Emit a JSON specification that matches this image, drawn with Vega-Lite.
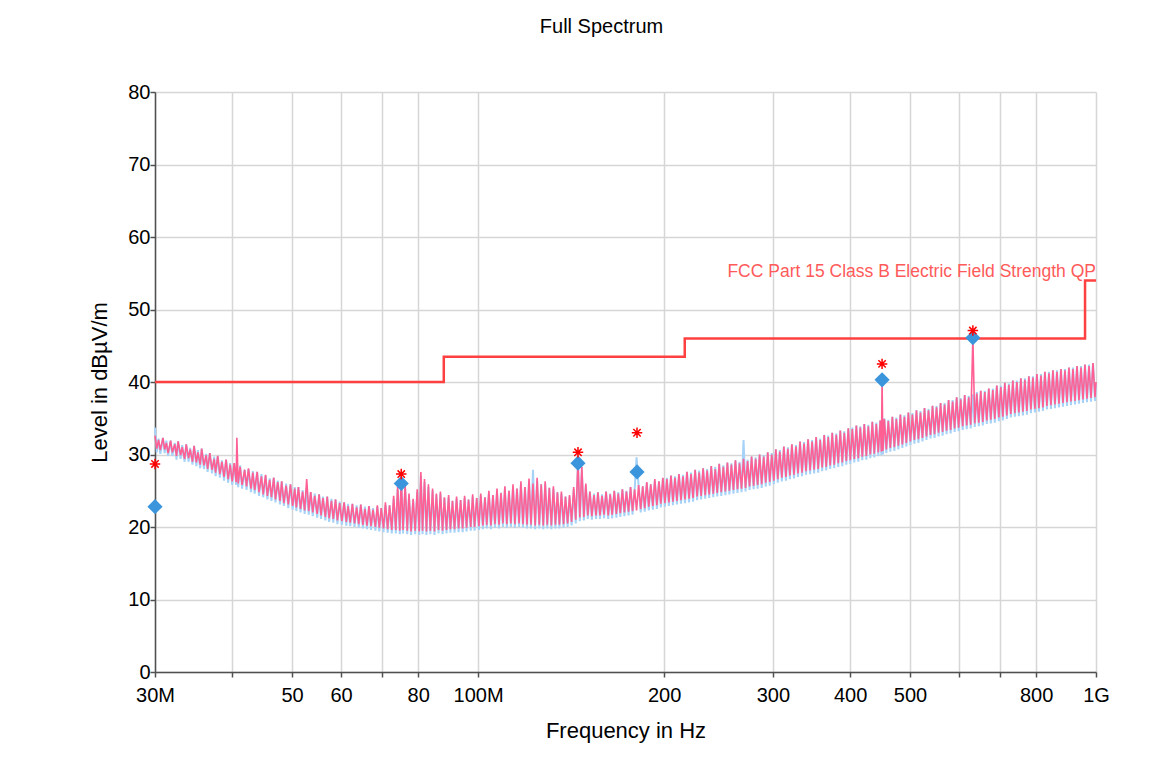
{
  "$schema": "https://vega.github.io/schema/vega-lite/v6.json",
  "width": 941,
  "height": 580,
  "autosize": {"type": "none"},
  "padding": {"left": 155, "top": 92, "right": 79, "bottom": 111},
  "background": "white",
  "title": {"text": "Full Spectrum", "fontSize": 20, "font": "Liberation Sans", "fontWeight": "normal", "color": "#000000", "anchor": "middle", "frame": "group", "dx": -24, "offset": 45},
  "config": {
    "font": "Liberation Sans",
    "view": {"stroke": null},
    "axis": {
      "labelFont": "Liberation Sans", "titleFont": "Liberation Sans",
      "labelFontSize": 20, "titleFontSize": 22, "titleFontWeight": "normal",
      "labelColor": "#000000", "titleColor": "#000000",
      "gridColor": "#d6d6d6", "gridWidth": 1.5,
      "domainColor": "#505050", "domainWidth": 1.5,
      "tickColor": "#505050", "tickWidth": 1.5, "tickSize": 5,
      "labelFlush": false, "labelOverlap": false
    }
  },
  "datasets": {
    "trace": [
      {"freq":30.0,"vert":32.6,"horiz":33.7},{"freq":30.2,"vert":30.8,"horiz":30.3},{"freq":30.4,"vert":32.0,"horiz":32.2},{"freq":30.6,"vert":30.6,"horiz":30.1},{"freq":30.9,"vert":32.3,"horiz":32.3},{"freq":31.1,"vert":30.7,"horiz":30.2},{"freq":31.3,"vert":31.6,"horiz":31.9},{"freq":31.5,"vert":30.2,"horiz":29.8},{"freq":31.8,"vert":31.9,"horiz":31.9},{"freq":32.0,"vert":30.3,"horiz":29.8},{"freq":32.3,"vert":31.4,"horiz":31.6},{"freq":32.5,"vert":29.8,"horiz":29.3},{"freq":32.7,"vert":31.8,"horiz":31.8},{"freq":33.0,"vert":29.9,"horiz":29.4},{"freq":33.2,"vert":31.0,"horiz":31.3},{"freq":33.5,"vert":29.4,"horiz":29.0},{"freq":33.7,"vert":31.4,"horiz":31.4},{"freq":34.0,"vert":29.5,"horiz":29.0},{"freq":34.2,"vert":30.7,"horiz":30.9},{"freq":34.5,"vert":29.0,"horiz":28.6},{"freq":34.7,"vert":31.2,"horiz":31.2},{"freq":35.0,"vert":28.9,"horiz":28.4},{"freq":35.2,"vert":30.3,"horiz":30.6},{"freq":35.5,"vert":28.6,"horiz":28.1},{"freq":35.7,"vert":30.8,"horiz":30.8},{"freq":36.0,"vert":28.5,"horiz":28.0},{"freq":36.3,"vert":29.9,"horiz":30.1},{"freq":36.5,"vert":28.0,"horiz":27.6},{"freq":36.8,"vert":30.2,"horiz":30.2},{"freq":37.1,"vert":27.9,"horiz":27.4},{"freq":37.4,"vert":29.4,"horiz":29.7},{"freq":37.6,"vert":27.5,"horiz":27.0},{"freq":37.9,"vert":29.8,"horiz":29.8},{"freq":38.2,"vert":27.3,"horiz":26.8},{"freq":38.5,"vert":29.0,"horiz":29.2},{"freq":38.8,"vert":26.9,"horiz":26.4},{"freq":39.1,"vert":29.3,"horiz":29.3},{"freq":39.4,"vert":26.6,"horiz":26.1},{"freq":39.7,"vert":28.6,"horiz":28.8},{"freq":40.0,"vert":26.3,"horiz":25.8},{"freq":40.3,"vert":28.8,"horiz":28.8},
      {"freq":40.6,"vert":26.2,"horiz":25.8},{"freq":40.7,"vert":32.3,"horiz":27.9},{"freq":40.9,"vert":26.0,"horiz":25.5},{"freq":41.2,"vert":28.3,"horiz":28.5},{"freq":41.5,"vert":25.8,"horiz":25.3},{"freq":41.9,"vert":27.9,"horiz":27.9},{"freq":42.2,"vert":25.6,"horiz":25.1},{"freq":42.5,"vert":28.1,"horiz":28.0},{"freq":42.9,"vert":25.3,"horiz":24.8},{"freq":43.2,"vert":27.5,"horiz":27.7},{"freq":43.5,"vert":25.1,"horiz":24.6},{"freq":43.9,"vert":27.6,"horiz":27.6},{"freq":44.2,"vert":24.8,"horiz":24.3},{"freq":44.6,"vert":27.0,"horiz":27.3},{"freq":44.9,"vert":24.5,"horiz":24.1},{"freq":45.3,"vert":27.2,"horiz":27.1},{"freq":45.6,"vert":24.3,"horiz":23.8},{"freq":46.0,"vert":26.5,"horiz":26.7},{"freq":46.3,"vert":24.1,"horiz":23.6},{"freq":46.7,"vert":26.8,"horiz":26.8},{"freq":47.0,"vert":23.8,"horiz":23.4},{"freq":47.4,"vert":26.2,"horiz":26.4},{"freq":47.8,"vert":23.6,"horiz":23.1},{"freq":48.1,"vert":26.3,"horiz":26.3},{"freq":48.5,"vert":23.3,"horiz":22.9},{"freq":48.9,"vert":25.7,"horiz":26.0},{"freq":49.3,"vert":23.1,"horiz":22.6},{"freq":49.7,"vert":25.9,"horiz":25.9},{"freq":50.1,"vert":22.9,"horiz":22.4},{"freq":50.5,"vert":25.3,"horiz":25.5},{"freq":50.8,"vert":22.7,"horiz":22.2},{"freq":51.2,"vert":25.5,"horiz":25.5},{"freq":51.6,"vert":22.5,"horiz":22.0},{"freq":52.0,"vert":24.9,"horiz":25.1},{"freq":52.4,"vert":22.3,"horiz":21.8},{"freq":52.8,"vert":26.6,"horiz":25.4},{"freq":53.2,"vert":22.2,"horiz":21.7},{"freq":53.6,"vert":24.8,"horiz":24.8},{"freq":54.0,"vert":22.0,"horiz":21.5},{"freq":54.4,"vert":24.3,"horiz":24.6},{"freq":54.9,"vert":21.8,"horiz":21.3},{"freq":55.3,"vert":24.5,"horiz":24.5},{"freq":55.7,"vert":21.6,"horiz":21.1},{"freq":56.1,"vert":24.0,"horiz":24.2},{"freq":56.6,"vert":21.4,"horiz":20.9},{"freq":57.0,"vert":24.2,"horiz":24.2},{"freq":57.4,"vert":21.2,"horiz":20.7},{"freq":57.9,"vert":23.6,"horiz":23.9},{"freq":58.3,"vert":21.1,"horiz":20.6},{"freq":58.8,"vert":23.8,"horiz":23.8},{"freq":59.2,"vert":20.9,"horiz":20.4},{"freq":59.7,"vert":23.3,"horiz":23.5},
      {"freq":60.2,"vert":20.8,"horiz":20.3},{"freq":60.7,"vert":23.4,"horiz":23.4},{"freq":61.2,"vert":20.7,"horiz":20.2},{"freq":61.6,"vert":22.9,"horiz":23.2},{"freq":62.1,"vert":20.6,"horiz":20.1},{"freq":62.6,"vert":23.2,"horiz":23.2},{"freq":63.1,"vert":20.5,"horiz":20.0},{"freq":63.6,"vert":22.7,"horiz":23.0},{"freq":64.1,"vert":20.4,"horiz":19.9},{"freq":64.6,"vert":23.1,"horiz":23.1},{"freq":65.1,"vert":20.3,"horiz":19.8},{"freq":65.6,"vert":22.5,"horiz":22.8},{"freq":66.1,"vert":20.2,"horiz":19.7},{"freq":66.6,"vert":22.9,"horiz":22.9},{"freq":67.1,"vert":20.1,"horiz":19.6},{"freq":67.6,"vert":22.4,"horiz":22.6},{"freq":68.2,"vert":20.0,"horiz":19.5},{"freq":68.7,"vert":23.0,"horiz":22.8},{"freq":69.2,"vert":19.9,"horiz":19.4},{"freq":69.7,"vert":22.6,"horiz":22.6},{"freq":70.3,"vert":19.8,"horiz":19.3},{"freq":70.8,"vert":23.4,"horiz":23.0},{"freq":71.4,"vert":19.7,"horiz":19.2},{"freq":71.9,"vert":23.0,"horiz":23.0},{"freq":72.5,"vert":19.6,"horiz":19.1},{"freq":73.0,"vert":24.3,"horiz":23.9},{"freq":73.6,"vert":19.6,"horiz":19.1},{"freq":74.1,"vert":25.6,"horiz":25.2},{"freq":74.7,"vert":19.5,"horiz":19.0},{"freq":75.1,"vert":27.0,"horiz":26.6},{"freq":75.6,"vert":19.6,"horiz":19.1},{"freq":76.2,"vert":25.8,"horiz":25.3},{"freq":76.8,"vert":19.5,"horiz":19.0},{"freq":77.3,"vert":24.6,"horiz":24.3},{"freq":77.9,"vert":19.4,"horiz":18.9},{"freq":78.5,"vert":23.9,"horiz":23.7},{"freq":79.1,"vert":19.5,"horiz":19.0},{"freq":79.7,"vert":25.2,"horiz":24.8},{"freq":80.3,"vert":19.4,"horiz":18.9},{"freq":80.8,"vert":27.6,"horiz":27.1},{"freq":81.3,"vert":19.5,"horiz":19.0},{"freq":81.9,"vert":26.6,"horiz":26.2},{"freq":82.5,"vert":19.4,"horiz":18.9},{"freq":83.1,"vert":25.9,"horiz":25.5},{"freq":83.7,"vert":19.5,"horiz":19.0},{"freq":84.4,"vert":25.3,"horiz":25.0},{"freq":85.0,"vert":19.4,"horiz":18.9},{"freq":85.6,"vert":24.6,"horiz":24.4},{"freq":86.3,"vert":19.6,"horiz":19.1},{"freq":86.9,"vert":24.9,"horiz":24.6},{"freq":87.6,"vert":19.5,"horiz":19.0},{"freq":88.2,"vert":24.1,"horiz":24.0},{"freq":88.9,"vert":19.6,"horiz":19.1},{"freq":89.6,"vert":24.4,"horiz":24.1},{"freq":90.2,"vert":19.7,"horiz":19.2},{"freq":90.9,"vert":23.6,"horiz":23.6},{"freq":91.6,"vert":19.7,"horiz":19.2},{"freq":92.3,"vert":24.2,"horiz":23.9},{"freq":93.0,"vert":19.8,"horiz":19.3},{"freq":93.7,"vert":23.7,"horiz":23.7},{"freq":94.4,"vert":19.8,"horiz":19.3},{"freq":95.1,"vert":24.3,"horiz":24.0},{"freq":95.8,"vert":19.9,"horiz":19.4},{"freq":96.5,"vert":23.8,"horiz":23.8},{"freq":97.3,"vert":20.0,"horiz":19.5},{"freq":98.0,"vert":24.5,"horiz":24.2},{"freq":98.7,"vert":20.0,"horiz":19.5},{"freq":99.5,"vert":24.0,"horiz":24.0},
      {"freq":100.3,"vert":20.1,"horiz":19.6},{"freq":101.0,"vert":24.6,"horiz":24.3},{"freq":101.8,"vert":20.2,"horiz":19.7},{"freq":102.6,"vert":24.1,"horiz":24.1},{"freq":103.3,"vert":20.3,"horiz":19.8},{"freq":104.1,"vert":25.0,"horiz":24.6},{"freq":104.9,"vert":20.2,"horiz":19.7},{"freq":105.7,"vert":24.4,"horiz":24.4},{"freq":106.5,"vert":20.4,"horiz":19.9},{"freq":107.3,"vert":25.3,"horiz":24.9},{"freq":108.1,"vert":20.3,"horiz":19.8},{"freq":108.9,"vert":24.7,"horiz":24.7},{"freq":109.7,"vert":20.5,"horiz":20.0},{"freq":110.5,"vert":25.6,"horiz":25.2},{"freq":111.3,"vert":20.4,"horiz":19.9},{"freq":112.2,"vert":25.0,"horiz":25.0},{"freq":113.0,"vert":20.5,"horiz":20.0},{"freq":113.9,"vert":25.9,"horiz":25.5},{"freq":114.7,"vert":20.4,"horiz":19.9},{"freq":115.6,"vert":25.3,"horiz":25.3},{"freq":116.5,"vert":20.5,"horiz":20.0},{"freq":117.3,"vert":26.3,"horiz":25.9},{"freq":118.2,"vert":20.4,"horiz":19.9},{"freq":119.1,"vert":25.5,"horiz":25.5},{"freq":120.0,"vert":20.3,"horiz":19.8},{"freq":120.9,"vert":26.7,"horiz":26.3},{"freq":121.8,"vert":20.3,"horiz":19.8},{"freq":122.7,"vert":26.0,"horiz":27.9},{"freq":123.7,"vert":20.2,"horiz":19.7},{"freq":124.6,"vert":26.8,"horiz":26.4},{"freq":125.6,"vert":20.3,"horiz":19.8},{"freq":126.5,"vert":25.9,"horiz":25.9},{"freq":127.5,"vert":20.2,"horiz":19.7},{"freq":128.4,"vert":26.3,"horiz":26.0},{"freq":129.4,"vert":20.3,"horiz":19.8},{"freq":130.4,"vert":25.4,"horiz":25.4},{"freq":131.4,"vert":20.2,"horiz":19.7},{"freq":132.4,"vert":25.6,"horiz":25.3},{"freq":133.4,"vert":20.3,"horiz":19.8},{"freq":134.4,"vert":24.8,"horiz":24.8},{"freq":135.4,"vert":20.3,"horiz":19.8},{"freq":136.4,"vert":24.9,"horiz":24.6},{"freq":137.5,"vert":20.4,"horiz":19.9},{"freq":138.5,"vert":24.2,"horiz":24.2},{"freq":139.6,"vert":20.5,"horiz":20.0},{"freq":140.6,"vert":24.4,"horiz":24.2},{"freq":141.7,"vert":20.7,"horiz":20.2},{"freq":142.8,"vert":25.5,"horiz":25.2},{"freq":143.9,"vert":21.0,"horiz":20.5},{"freq":145.1,"vert":29.1,"horiz":28.7},{"freq":146.1,"vert":21.3,"horiz":20.8},{"freq":147.2,"vert":28.3,"horiz":27.9},{"freq":148.3,"vert":21.4,"horiz":20.9},{"freq":149.4,"vert":26.0,"horiz":25.7},{"freq":150.5,"vert":21.6,"horiz":21.1},{"freq":151.7,"vert":24.9,"horiz":24.9},{"freq":152.8,"vert":21.5,"horiz":21.0},{"freq":154.0,"vert":24.4,"horiz":24.6},{"freq":155.2,"vert":21.6,"horiz":21.1},{"freq":156.3,"vert":24.8,"horiz":24.8},{"freq":157.5,"vert":21.6,"horiz":21.1},{"freq":158.7,"vert":24.3,"horiz":24.5},{"freq":159.9,"vert":21.7,"horiz":21.2},{"freq":161.1,"vert":24.9,"horiz":24.9},{"freq":162.4,"vert":21.6,"horiz":21.1},{"freq":163.6,"vert":24.5,"horiz":24.6},{"freq":164.8,"vert":21.7,"horiz":21.2},{"freq":166.1,"vert":25.0,"horiz":25.0},{"freq":167.4,"vert":21.8,"horiz":21.3},{"freq":168.6,"vert":24.6,"horiz":24.8},{"freq":169.9,"vert":21.9,"horiz":21.4},{"freq":171.2,"vert":25.2,"horiz":25.2},{"freq":172.5,"vert":22.0,"horiz":21.5},{"freq":173.8,"vert":24.9,"horiz":25.0},{"freq":175.2,"vert":22.1,"horiz":21.6},{"freq":176.5,"vert":25.5,"horiz":25.5},{"freq":177.8,"vert":22.2,"horiz":21.7},{"freq":179.2,"vert":25.2,"horiz":25.2},{"freq":180.5,"vert":22.3,"horiz":29.6},{"freq":181.9,"vert":25.8,"horiz":25.6},{"freq":183.3,"vert":22.5,"horiz":22.0},{"freq":184.7,"vert":25.6,"horiz":25.6},{"freq":186.1,"vert":22.6,"horiz":22.1},{"freq":187.5,"vert":26.2,"horiz":26.1},{"freq":188.9,"vert":22.8,"horiz":22.3},{"freq":190.3,"vert":25.9,"horiz":25.9},{"freq":191.8,"vert":22.9,"horiz":22.4},{"freq":193.2,"vert":26.6,"horiz":26.4},{"freq":194.7,"vert":23.0,"horiz":22.5},{"freq":196.2,"vert":26.3,"horiz":26.3},{"freq":197.6,"vert":23.2,"horiz":22.7},{"freq":199.1,"vert":26.8,"horiz":26.7},
      {"freq":200.6,"vert":23.3,"horiz":22.8},{"freq":202.1,"vert":26.6,"horiz":26.8},{"freq":203.6,"vert":23.4,"horiz":22.9},{"freq":205.2,"vert":27.1,"horiz":27.1},{"freq":206.7,"vert":23.5,"horiz":23.0},{"freq":208.3,"vert":26.8,"horiz":27.0},{"freq":209.8,"vert":23.6,"horiz":23.1},{"freq":211.4,"vert":27.3,"horiz":27.3},{"freq":213.0,"vert":23.7,"horiz":23.2},{"freq":214.6,"vert":27.0,"horiz":27.2},{"freq":216.2,"vert":23.8,"horiz":23.3},{"freq":217.8,"vert":27.6,"horiz":27.6},{"freq":219.5,"vert":23.9,"horiz":23.4},{"freq":221.1,"vert":27.3,"horiz":27.5},{"freq":222.8,"vert":24.0,"horiz":23.5},{"freq":224.5,"vert":27.9,"horiz":27.9},{"freq":226.2,"vert":24.2,"horiz":23.7},{"freq":227.9,"vert":27.5,"horiz":27.8},{"freq":229.6,"vert":24.3,"horiz":23.8},{"freq":231.3,"vert":28.1,"horiz":28.1},{"freq":233.1,"vert":24.4,"horiz":23.9},{"freq":234.8,"vert":27.8,"horiz":28.0},{"freq":236.6,"vert":24.5,"horiz":24.0},{"freq":238.4,"vert":28.4,"horiz":28.4},{"freq":240.2,"vert":24.6,"horiz":24.1},{"freq":242.0,"vert":28.0,"horiz":28.3},{"freq":243.8,"vert":24.7,"horiz":24.2},{"freq":245.6,"vert":28.7,"horiz":28.7},{"freq":247.5,"vert":24.8,"horiz":24.3},{"freq":249.4,"vert":28.3,"horiz":28.5},{"freq":251.3,"vert":24.9,"horiz":24.4},{"freq":253.2,"vert":28.9,"horiz":28.9},{"freq":255.1,"vert":25.0,"horiz":24.5},{"freq":257.0,"vert":28.6,"horiz":28.8},{"freq":259.0,"vert":25.1,"horiz":24.6},{"freq":260.9,"vert":29.2,"horiz":29.2},{"freq":262.9,"vert":25.2,"horiz":24.7},{"freq":264.9,"vert":28.8,"horiz":29.0},{"freq":266.9,"vert":25.3,"horiz":24.8},{"freq":268.9,"vert":29.4,"horiz":32.0},{"freq":270.9,"vert":25.4,"horiz":24.9},{"freq":273.0,"vert":29.1,"horiz":29.3},{"freq":275.0,"vert":25.6,"horiz":25.1},{"freq":277.1,"vert":29.7,"horiz":29.7},{"freq":279.2,"vert":25.7,"horiz":25.2},{"freq":281.3,"vert":29.4,"horiz":29.6},{"freq":283.4,"vert":25.8,"horiz":25.3},{"freq":285.5,"vert":30.0,"horiz":30.0},{"freq":287.7,"vert":25.9,"horiz":25.4},{"freq":289.9,"vert":29.7,"horiz":29.9},{"freq":292.1,"vert":26.1,"horiz":25.6},{"freq":294.3,"vert":30.3,"horiz":30.3},{"freq":296.5,"vert":26.2,"horiz":25.7},{"freq":298.7,"vert":30.0,"horiz":30.2},{"freq":301.0,"vert":26.4,"horiz":25.9},{"freq":303.3,"vert":30.7,"horiz":30.7},{"freq":305.5,"vert":26.6,"horiz":26.1},{"freq":307.8,"vert":30.4,"horiz":30.6},{"freq":310.2,"vert":26.8,"horiz":26.3},{"freq":312.5,"vert":31.1,"horiz":31.1},{"freq":314.9,"vert":26.9,"horiz":26.4},{"freq":317.2,"vert":30.8,"horiz":31.0},{"freq":319.6,"vert":27.1,"horiz":26.6},{"freq":322.0,"vert":31.4,"horiz":31.4},{"freq":324.5,"vert":27.2,"horiz":26.7},{"freq":326.9,"vert":31.1,"horiz":31.3},{"freq":329.4,"vert":27.4,"horiz":26.9},{"freq":331.9,"vert":31.8,"horiz":31.8},{"freq":334.4,"vert":27.5,"horiz":27.0},{"freq":336.9,"vert":31.5,"horiz":31.7},{"freq":339.4,"vert":27.7,"horiz":27.2},{"freq":342.0,"vert":32.1,"horiz":32.1},{"freq":344.6,"vert":27.8,"horiz":27.3},{"freq":347.2,"vert":31.8,"horiz":32.0},{"freq":349.8,"vert":27.9,"horiz":27.4},{"freq":352.4,"vert":32.4,"horiz":32.4},{"freq":355.1,"vert":28.0,"horiz":27.5},{"freq":357.8,"vert":32.0,"horiz":32.2},{"freq":360.5,"vert":28.2,"horiz":27.7},{"freq":363.2,"vert":32.7,"horiz":32.7},{"freq":365.9,"vert":28.3,"horiz":27.8},{"freq":368.7,"vert":32.4,"horiz":32.6},{"freq":371.4,"vert":28.5,"horiz":28.0},{"freq":374.2,"vert":33.0,"horiz":33.0},{"freq":377.0,"vert":28.6,"horiz":28.1},{"freq":379.9,"vert":32.7,"horiz":32.9},{"freq":382.7,"vert":28.8,"horiz":28.3},{"freq":385.6,"vert":33.3,"horiz":33.3},{"freq":388.5,"vert":28.9,"horiz":28.4},{"freq":391.4,"vert":33.0,"horiz":33.2},{"freq":394.4,"vert":29.1,"horiz":28.6},{"freq":397.3,"vert":33.6,"horiz":33.6},
      {"freq":400.3,"vert":29.2,"horiz":28.7},{"freq":403.3,"vert":33.5,"horiz":33.7},{"freq":406.3,"vert":29.4,"horiz":28.9},{"freq":409.4,"vert":34.0,"horiz":34.0},{"freq":412.4,"vert":29.5,"horiz":29.0},{"freq":415.5,"vert":33.7,"horiz":33.9},{"freq":418.6,"vert":29.7,"horiz":29.2},{"freq":421.7,"vert":34.2,"horiz":34.2},{"freq":424.9,"vert":29.8,"horiz":29.3},{"freq":428.1,"vert":33.9,"horiz":34.1},{"freq":431.3,"vert":30.0,"horiz":29.5},{"freq":434.5,"vert":34.5,"horiz":34.5},{"freq":437.7,"vert":30.1,"horiz":29.6},{"freq":441.0,"vert":34.2,"horiz":34.4},{"freq":444.3,"vert":30.3,"horiz":29.8},{"freq":447.5,"vert":34.7,"horiz":34.7},{"freq":449.5,"vert":30.4,"horiz":29.9},{"freq":450.6,"vert":40.3,"horiz":35.0},{"freq":452.0,"vert":30.5,"horiz":30.0},{"freq":454.4,"vert":34.9,"horiz":35.0},{"freq":457.8,"vert":30.7,"horiz":30.2},{"freq":461.2,"vert":34.6,"horiz":34.8},{"freq":464.7,"vert":30.9,"horiz":30.4},{"freq":468.2,"vert":35.2,"horiz":35.2},{"freq":471.7,"vert":31.0,"horiz":30.5},{"freq":475.2,"vert":34.9,"horiz":35.1},{"freq":478.8,"vert":31.2,"horiz":30.7},{"freq":482.4,"vert":35.5,"horiz":35.5},{"freq":486.0,"vert":31.4,"horiz":30.9},{"freq":489.7,"vert":35.2,"horiz":35.4},{"freq":493.3,"vert":31.6,"horiz":31.1},{"freq":497.0,"vert":35.8,"horiz":35.8},{"freq":500.8,"vert":31.8,"horiz":31.3},{"freq":504.5,"vert":35.5,"horiz":35.7},{"freq":508.3,"vert":32.0,"horiz":31.5},{"freq":512.2,"vert":36.1,"horiz":36.1},{"freq":516.0,"vert":32.1,"horiz":31.6},{"freq":519.9,"vert":35.8,"horiz":36.0},{"freq":523.8,"vert":32.3,"horiz":31.8},{"freq":527.8,"vert":36.4,"horiz":36.4},{"freq":531.7,"vert":32.5,"horiz":32.0},{"freq":535.7,"vert":36.1,"horiz":36.3},{"freq":539.8,"vert":32.7,"horiz":32.2},{"freq":543.8,"vert":36.7,"horiz":36.7},{"freq":547.9,"vert":32.8,"horiz":32.3},{"freq":552.0,"vert":36.5,"horiz":36.7},{"freq":556.2,"vert":33.0,"horiz":32.5},{"freq":560.4,"vert":37.1,"horiz":37.1},{"freq":564.6,"vert":33.1,"horiz":32.6},{"freq":568.8,"vert":36.9,"horiz":37.1},{"freq":573.1,"vert":33.3,"horiz":32.8},{"freq":577.4,"vert":37.5,"horiz":37.5},{"freq":581.8,"vert":33.4,"horiz":32.9},{"freq":586.1,"vert":37.3,"horiz":37.5},{"freq":590.5,"vert":33.6,"horiz":33.1},{"freq":595.0,"vert":37.9,"horiz":37.9},{"freq":599.4,"vert":33.7,"horiz":33.2},{"freq":604.0,"vert":37.6,"horiz":37.8},{"freq":608.5,"vert":33.9,"horiz":33.4},{"freq":613.1,"vert":38.2,"horiz":38.2},{"freq":617.7,"vert":34.0,"horiz":33.5},{"freq":622.3,"vert":37.9,"horiz":38.1},{"freq":627.0,"vert":34.1,"horiz":33.6},{"freq":632.0,"vert":46.1,"horiz":38.3},{"freq":636.5,"vert":34.3,"horiz":33.8},{"freq":641.3,"vert":38.4,"horiz":38.6},{"freq":646.1,"vert":34.4,"horiz":33.9},{"freq":650.9,"vert":38.8,"horiz":38.8},{"freq":655.8,"vert":34.5,"horiz":34.0},{"freq":660.7,"vert":38.6,"horiz":38.8},{"freq":665.7,"vert":34.7,"horiz":34.2},{"freq":670.7,"vert":39.1,"horiz":39.1},{"freq":675.7,"vert":34.8,"horiz":34.3},{"freq":680.8,"vert":38.9,"horiz":39.1},{"freq":685.9,"vert":34.9,"horiz":34.4},{"freq":691.0,"vert":39.5,"horiz":39.5},{"freq":696.2,"vert":35.1,"horiz":34.6},{"freq":701.4,"vert":39.3,"horiz":39.5},{"freq":706.7,"vert":35.2,"horiz":34.7},{"freq":712.0,"vert":39.9,"horiz":39.9},{"freq":717.3,"vert":35.4,"horiz":34.9},{"freq":722.7,"vert":39.6,"horiz":39.8},{"freq":728.1,"vert":35.6,"horiz":35.1},{"freq":733.6,"vert":40.2,"horiz":40.2},{"freq":739.1,"vert":35.7,"horiz":35.2},{"freq":744.6,"vert":40.0,"horiz":40.2},{"freq":750.2,"vert":35.8,"horiz":35.3},{"freq":755.8,"vert":40.5,"horiz":40.5},{"freq":761.5,"vert":35.9,"horiz":35.4},{"freq":767.2,"vert":40.3,"horiz":40.5},{"freq":773.0,"vert":36.0,"horiz":35.5},{"freq":778.8,"vert":40.8,"horiz":40.8},{"freq":784.6,"vert":36.2,"horiz":35.7},{"freq":790.5,"vert":40.6,"horiz":40.8},{"freq":796.4,"vert":36.3,"horiz":35.8},{"freq":802.4,"vert":41.1,"horiz":41.1},{"freq":808.4,"vert":36.4,"horiz":35.9},{"freq":814.5,"vert":40.9,"horiz":41.1},{"freq":820.6,"vert":36.5,"horiz":36.0},{"freq":826.7,"vert":41.4,"horiz":41.4},{"freq":832.9,"vert":36.7,"horiz":36.2},{"freq":839.2,"vert":41.2,"horiz":41.4},{"freq":845.5,"vert":36.8,"horiz":36.3},{"freq":851.8,"vert":41.6,"horiz":41.6},{"freq":858.2,"vert":36.9,"horiz":36.4},{"freq":864.6,"vert":41.4,"horiz":41.6},{"freq":871.1,"vert":37.0,"horiz":36.5},{"freq":877.6,"vert":41.8,"horiz":41.8},{"freq":884.2,"vert":37.1,"horiz":36.6},{"freq":890.8,"vert":41.6,"horiz":41.8},{"freq":897.5,"vert":37.2,"horiz":36.7},{"freq":904.2,"vert":42.0,"horiz":42.0},{"freq":911.0,"vert":37.3,"horiz":36.8},{"freq":917.8,"vert":41.8,"horiz":42.0},{"freq":924.7,"vert":37.4,"horiz":36.9},{"freq":931.6,"vert":42.2,"horiz":42.2},{"freq":938.6,"vert":37.5,"horiz":37.0},{"freq":945.6,"vert":42.0,"horiz":42.2},{"freq":952.7,"vert":37.6,"horiz":37.1},{"freq":959.8,"vert":42.4,"horiz":42.4},{"freq":967.0,"vert":37.7,"horiz":37.2},{"freq":974.3,"vert":42.2,"horiz":42.4},{"freq":981.6,"vert":37.8,"horiz":37.3},{"freq":988.9,"vert":42.6,"horiz":42.6},{"freq":996.3,"vert":37.9,"horiz":37.4},{"freq":1000,"vert":40.0,"horiz":39.8}
    ],
    "finals": [
      {"freq":30.0,"qp":22.8,"peak":28.7},
      {"freq":75.1,"qp":26.0,"peak":27.3},
      {"freq":145.1,"qp":28.8,"peak":30.3},
      {"freq":180.8,"qp":27.6,"peak":33.0},
      {"freq":450.6,"qp":40.3,"peak":42.5},
      {"freq":632.0,"qp":46.1,"peak":47.1}
    ],
    "limit": [
      {"freq":30,"limit":40},
      {"freq":88,"limit":43.5},
      {"freq":216,"limit":46},
      {"freq":960,"limit":54},
      {"freq":1000,"limit":54}
    ],
    "limitlabel": [
      {"freq":1000,"level":54.45,"name":"FCC Part 15 Class B Electric Field Strength QP"}
    ]
  },
  "encoding": {
    "x": {
      "field": "freq", "type": "quantitative",
      "scale": {"type": "log", "domain": [30, 1000], "nice": false},
      "axis": {
        "title": "Frequency in Hz",
        "values": [30, 40, 50, 60, 70, 80, 100, 200, 300, 400, 500, 600, 700, 800, 1000],
        "format": "d",
        "labelExpr": "datum.value == 30 ? '30M' : datum.value == 100 ? '100M' : datum.value == 1000 ? '1G' : (datum.value == 40 || datum.value == 70 || datum.value == 600 || datum.value == 700) ? '' : datum.label",
        "labelPadding": 8,
        "titlePadding": 15,
        "grid": true
      }
    }
  },
  "layer": [
    {
      "data": {"name": "trace"},
      "mark": {"type": "line", "color": "#a6d2f7", "strokeWidth": 2.0},
      "encoding": {
        "y": {
          "field": "horiz", "type": "quantitative",
          "scale": {"domain": [0, 80], "nice": false, "zero": false},
          "axis": {
            "title": "Level in dBµV/m",
            "values": [0, 5, 10, 15, 20, 25, 30, 35, 40, 45, 50, 55, 60, 65, 70, 75, 80],
            "labelExpr": "datum.value % 10 === 0 ? datum.label : ''",
            "labelPadding": 0,
            "titlePadding": 16,
            "grid": true
          }
        }
      }
    },
    {
      "data": {"name": "trace"},
      "mark": {"type": "line", "color": "#ff5f93", "strokeWidth": 1.6},
      "encoding": {
        "y": {"field": "vert", "type": "quantitative", "scale": {"domain": [0, 80], "nice": false, "zero": false}, "title": "Level in dBµV/m"}
      }
    },
    {
      "data": {"name": "limit"},
      "mark": {"type": "line", "interpolate": "step-after", "color": "#ff4040", "strokeWidth": 2.5},
      "encoding": {
        "y": {"field": "limit", "type": "quantitative", "scale": {"domain": [0, 80], "nice": false, "zero": false}, "title": "Level in dBµV/m"}
      }
    },
    {
      "data": {"name": "finals"},
      "mark": {"type": "point", "shape": "diamond", "filled": true, "color": "#3a95dc", "opacity": 1, "size": 230},
      "encoding": {
        "y": {"field": "qp", "type": "quantitative", "scale": {"domain": [0, 80], "nice": false, "zero": false}, "title": "Level in dBµV/m"}
      }
    },
    {
      "data": {"name": "finals"},
      "mark": {"type": "point", "shape": "M0,-1L0,1M-1,0L1,0M-0.7,-0.7L0.7,0.7M-0.7,0.7L0.7,-0.7", "filled": false, "color": "#ff0000", "strokeWidth": 1.5, "opacity": 1, "size": 110},
      "encoding": {
        "y": {"field": "peak", "type": "quantitative", "scale": {"domain": [0, 80], "nice": false, "zero": false}, "title": "Level in dBµV/m"}
      }
    },
    {
      "data": {"name": "limitlabel"},
      "mark": {"type": "text", "align": "right", "baseline": "alphabetic", "fontSize": 17.5, "font": "Liberation Sans", "color": "#ff5a5a"},
      "encoding": {
        "y": {"field": "level", "type": "quantitative", "scale": {"domain": [0, 80], "nice": false, "zero": false}, "title": "Level in dBµV/m"},
        "text": {"field": "name"}
      }
    }
  ]
}
